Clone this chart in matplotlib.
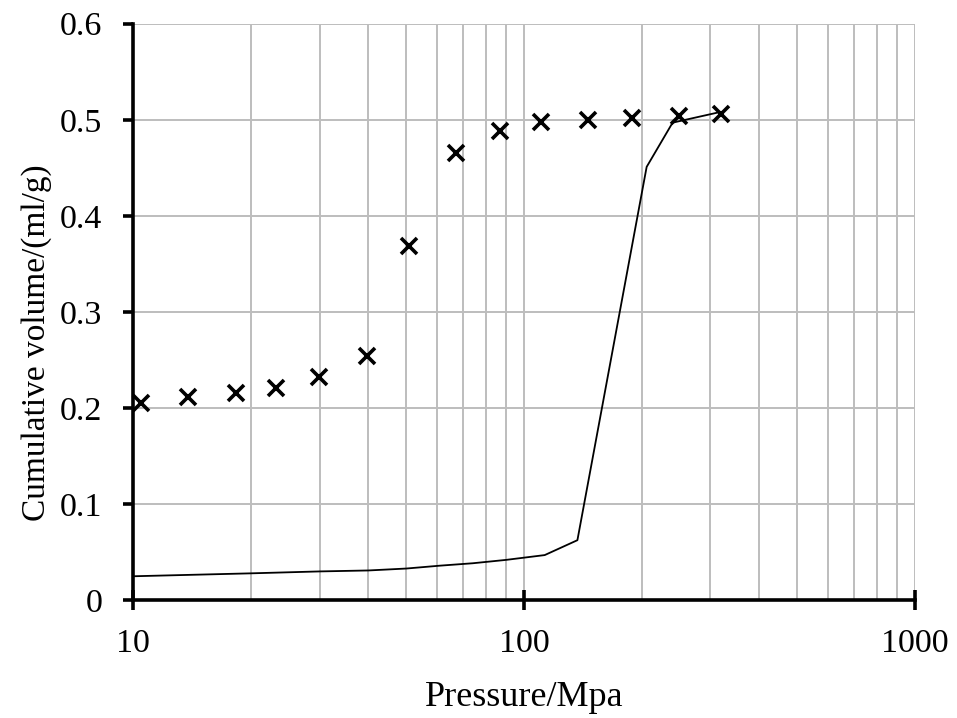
import matplotlib
matplotlib.use("Agg")
import matplotlib.pyplot as plt
from matplotlib.ticker import LogLocator, FixedLocator, NullFormatter

# Marker series (cross markers)
pressure_pts = [10.5, 13.8, 18.3, 23.2, 29.9, 39.7, 50.8, 67.0, 86.8, 110.5, 145.8, 188.9, 249, 319]
volume_pts = [0.205, 0.211, 0.216, 0.221, 0.232, 0.254, 0.369, 0.465, 0.488, 0.498, 0.500, 0.502, 0.504, 0.506]

# Line series
pressure_line = [10.1, 20, 30, 40, 50, 61, 74, 90, 113, 137, 206, 240, 317]
volume_line = [0.025, 0.028, 0.030, 0.031, 0.033, 0.036, 0.0385, 0.042, 0.047, 0.0625, 0.451, 0.497, 0.508]

y_ticks = [0, 0.1, 0.2, 0.3, 0.4, 0.5, 0.6]
y_ticklabels = ["0", "0.1", "0.2", "0.3", "0.4", "0.5", "0.6"]
x_ticks = [10, 100, 1000]
x_ticklabels = ["10", "100", "1000"]

plt.rcParams['font.family'] = ['Liberation Serif', 'DejaVu Serif']

fig = plt.figure(figsize=(9.57, 7.18), dpi=100)
ax = fig.add_axes([0.139, 0.164, 0.817, 0.803])

ax.set_xscale('log')
ax.set_xlim(10, 1000)
ax.set_ylim(0, 0.6)

ax.xaxis.set_major_locator(FixedLocator(x_ticks))
ax.set_xticklabels(x_ticklabels)
ax.xaxis.set_minor_locator(LogLocator(base=10, subs=range(2, 10)))
ax.xaxis.set_minor_formatter(NullFormatter())
ax.set_yticks(y_ticks)
ax.set_yticklabels(y_ticklabels)

ax.grid(True, which='both', axis='x', color='#bdbdbd', linewidth=1.4)
ax.grid(True, which='major', axis='y', color='#bdbdbd', linewidth=1.4)
ax.set_axisbelow(True)

ax.plot(pressure_line, volume_line, color='black', linewidth=1.3, zorder=3)
ax.plot(pressure_pts, volume_pts, linestyle='none', marker='x', color='black',
        markersize=12, markeredgewidth=2.6, zorder=4, clip_on=False)

for s in ['top', 'right']:
    ax.spines[s].set_visible(False)
for s in ['left', 'bottom']:
    ax.spines[s].set_linewidth(2.6)
    ax.spines[s].set_color('black')

ax.tick_params(axis='y', which='major', direction='out', length=7, width=2.6,
               labelsize=24.5, pad=15)
ax.tick_params(axis='x', which='major', direction='inout', length=14, width=2.6,
               labelsize=24.5, pad=13)
ax.tick_params(axis='x', which='minor', length=0)

ax.set_xlabel('Pressure/Mpa', fontsize=26, labelpad=16)
ax.set_ylabel('Cumulative volume/(ml/g)', fontsize=24, labelpad=6)
ax.yaxis.label.set_y(0.446)

fig.savefig('out.png', dpi=100)
